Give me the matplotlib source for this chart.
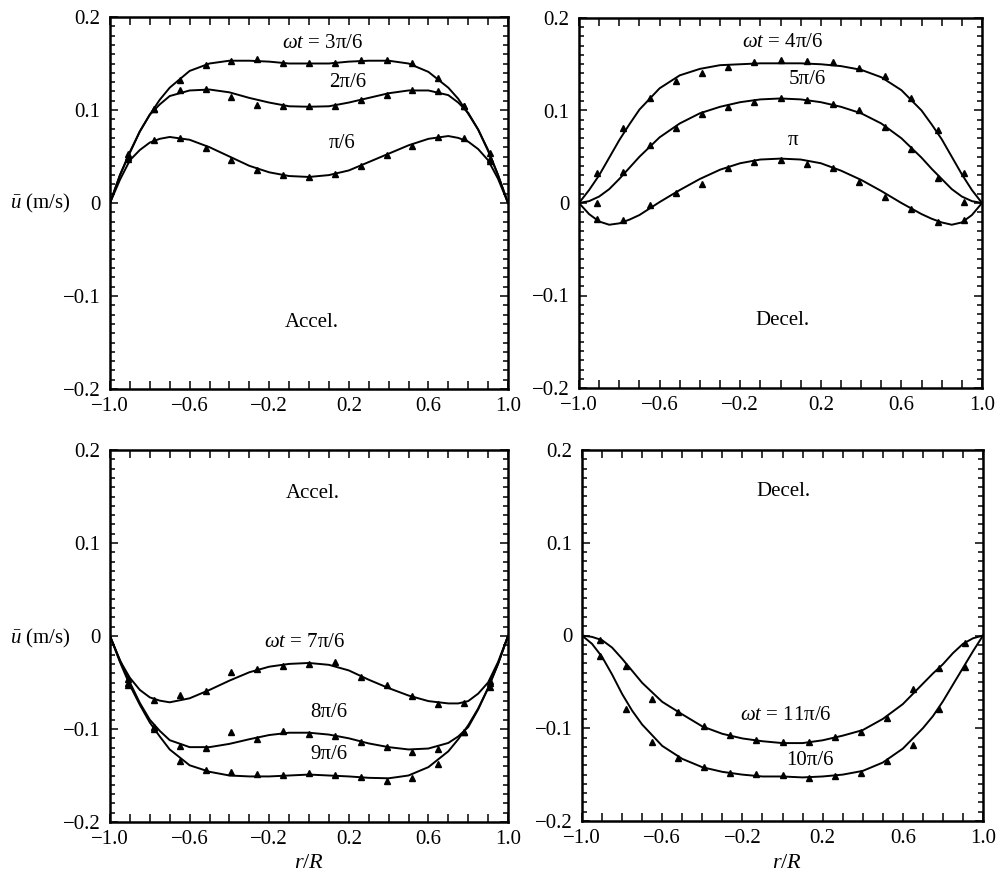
import matplotlib
matplotlib.use('Agg')
import matplotlib.pyplot as plt
from matplotlib.ticker import FixedLocator, MultipleLocator

plt.rcParams['font.family'] = ['Liberation Serif', 'DejaVu Serif']
plt.rcParams['mathtext.fontset'] = 'custom'
plt.rcParams['mathtext.rm'] = 'Liberation Serif'
plt.rcParams['mathtext.it'] = 'Liberation Serif:italic'
plt.rcParams['axes.unicode_minus'] = True

# ---------------- data ----------------
r_line = [-1.0, -0.95, -0.9, -0.85, -0.8, -0.75, -0.7, -0.6, -0.5, -0.4, -0.3, -0.2, -0.1, 0.0,
          0.1, 0.2, 0.3, 0.4, 0.5, 0.6, 0.7, 0.75, 0.8, 0.85, 0.9, 0.95, 1.0]
r_pts = [-0.91, -0.78, -0.65, -0.52, -0.39, -0.26, -0.13, 0.0,
         0.13, 0.26, 0.39, 0.52, 0.65, 0.78, 0.91]

# Panel (a) accel: wt = pi/6, 2pi/6, 3pi/6
line_1 = [0, 0.025, 0.046, 0.057, 0.065, 0.069, 0.071, 0.068, 0.060, 0.050, 0.040, 0.033, 0.029, 0.028,
          0.030, 0.035, 0.044, 0.053, 0.062, 0.069, 0.072, 0.070, 0.066, 0.058, 0.046, 0.026, 0]
line_2 = [0, 0.030, 0.054, 0.077, 0.095, 0.106, 0.115, 0.121, 0.122, 0.119, 0.113, 0.108, 0.104, 0.1035,
          0.104, 0.108, 0.113, 0.118, 0.121, 0.121, 0.116, 0.108, 0.097, 0.079, 0.056, 0.030, 0]
line_3 = [0, 0.030, 0.055, 0.077, 0.095, 0.111, 0.124, 0.142, 0.150, 0.153, 0.153, 0.152, 0.150, 0.150,
          0.150, 0.152, 0.153, 0.153, 0.150, 0.141, 0.124, 0.112, 0.096, 0.079, 0.057, 0.030, 0]
pts_1 = [0.047, 0.068, 0.070, 0.059, 0.046, 0.035, 0.030, 0.028, 0.031, 0.040, 0.052, 0.061, 0.071, 0.070, 0.045]
pts_2 = [0.050, 0.101, 0.121, 0.123, 0.114, 0.105, 0.104, 0.104, 0.104, 0.111, 0.116, 0.1215, 0.120, 0.104, 0.047]
pts_3 = [0.053, 0.101, 0.132, 0.148, 0.153, 0.1545, 0.150, 0.150, 0.150, 0.154, 0.154, 0.150, 0.134, 0.104, 0.054]

# Panel (b) decel: wt = 4pi/6, 5pi/6, pi
line_4 = [0, 0.014, 0.030, 0.049, 0.068, 0.085, 0.101, 0.124, 0.138, 0.145, 0.149, 0.150, 0.151, 0.151,
          0.151, 0.150, 0.148, 0.144, 0.136, 0.122, 0.100, 0.085, 0.069, 0.050, 0.031, 0.014, 0]
line_5 = [0, 0.002, 0.007, 0.015, 0.026, 0.038, 0.050, 0.071, 0.086, 0.097, 0.104, 0.109, 0.112, 0.113,
          0.112, 0.109, 0.104, 0.097, 0.086, 0.070, 0.049, 0.037, 0.026, 0.015, 0.007, 0.002, 0]
line_6 = [0, -0.012, -0.020, -0.0235, -0.022, -0.018, -0.013, 0.001, 0.014, 0.026, 0.036, 0.043, 0.047, 0.048,
          0.047, 0.043, 0.035, 0.025, 0.013, 0.000, -0.012, -0.017, -0.021, -0.0235, -0.021, -0.013, 0]
pts_4 = [0.032, 0.081, 0.114, 0.132, 0.140, 0.147, 0.152, 0.155, 0.153, 0.152, 0.1455, 0.137, 0.113, 0.079, 0.032]
pts_5 = [0.000, 0.034, 0.063, 0.081, 0.096, 0.104, 0.1095, 0.113, 0.111, 0.107, 0.1005, 0.082, 0.058, 0.027, 0.001]
pts_6 = [-0.017, -0.018, -0.002, 0.0105, 0.021, 0.0375, 0.0447, 0.046, 0.042, 0.0375, 0.023, 0.006, -0.006, -0.020, -0.018]

# Panel (c) accel: wt = 7pi/6, 8pi/6, 9pi/6
line_7 = [0, -0.0265, -0.045, -0.058, -0.066, -0.0695, -0.0713, -0.067, -0.058, -0.048, -0.039, -0.033, -0.030, -0.029,
          -0.031, -0.037, -0.047, -0.056, -0.064, -0.070, -0.0725, -0.0725, -0.070, -0.062, -0.050, -0.028, 0]
line_8 = [0, -0.026, -0.050, -0.072, -0.090, -0.102, -0.112, -0.1195, -0.1195, -0.116, -0.111, -0.1065, -0.104, -0.104,
          -0.106, -0.110, -0.1155, -0.1195, -0.122, -0.121, -0.115, -0.108, -0.098, -0.079, -0.056, -0.030, 0]
line_9 = [0, -0.028, -0.053, -0.074, -0.093, -0.108, -0.122, -0.139, -0.146, -0.150, -0.151, -0.151, -0.150, -0.149,
          -0.150, -0.151, -0.1525, -0.153, -0.150, -0.141, -0.124, -0.111, -0.096, -0.078, -0.056, -0.030, 0]
pts_7 = [-0.046, -0.069, -0.063, -0.059, -0.039, -0.035, -0.032, -0.030, -0.028, -0.044, -0.053, -0.064, -0.073, -0.072, -0.048]
pts_8 = [-0.050, -0.098, -0.118, -0.120, -0.1035, -0.111, -0.102, -0.105, -0.108, -0.114, -0.119, -0.125, -0.1215, -0.1035, -0.050]
pts_9 = [-0.053, -0.100, -0.134, -0.144, -0.146, -0.148, -0.149, -0.147, -0.149, -0.152, -0.156, -0.153, -0.138, -0.1035, -0.055]

# Panel (d) decel: wt = 10pi/6, 11pi/6
line_10 = [0, -0.009, -0.023, -0.042, -0.063, -0.081, -0.096, -0.119, -0.133, -0.142, -0.147, -0.150, -0.152, -0.152,
           -0.153, -0.152, -0.150, -0.146, -0.137, -0.122, -0.100, -0.087, -0.071, -0.053, -0.035, -0.017, 0]
line_11 = [0, -0.0015, -0.005, -0.013, -0.025, -0.038, -0.051, -0.0715, -0.085, -0.098, -0.106, -0.111, -0.114, -0.116,
           -0.116, -0.113, -0.108, -0.102, -0.090, -0.074, -0.052, -0.041, -0.031, -0.019, -0.009, -0.003, 0]
pts_10 = [-0.022, -0.079, -0.115, -0.1325, -0.142, -0.148, -0.149, -0.1505, -0.154, -0.152, -0.148, -0.135, -0.118, -0.079, -0.0345]
pts_11 = [-0.005, -0.033, -0.068, -0.083, -0.098, -0.107, -0.113, -0.1146, -0.1146, -0.109, -0.104, -0.089, -0.058, -0.035, -0.008]

x_ticks = [-1.0, -0.6, -0.2, 0.2, 0.6, 1.0]
x_ticklabels = ['\u22121.0', '\u22120.6', '\u22120.2', '0.2', '0.6', '1.0']
y_ticks = [-0.2, -0.1, 0.0, 0.1, 0.2]
y_ticklabels = ['\u22120.2', '\u22120.1', '0', '0.1', '0.2']

PI = '\u03c0'

# ---------------- figure ----------------
W, H = 1001, 884
fig = plt.figure(figsize=(W / 100, H / 100), dpi=100)

def px_axes(l, r, t, b):
    return fig.add_axes([l / W, 1 - b / H, (r - l) / W, (b - t) / H])

ax_a = px_axes(110, 508, 17, 389)
ax_b = px_axes(579, 982, 18, 388)
ax_c = px_axes(110, 508, 450, 822)
ax_d = px_axes(582, 983, 450, 821)

FS = 15

def style(ax):
    ax.set_xlim(-1.0, 1.0)
    ax.set_ylim(-0.2, 0.2)
    ax.xaxis.set_major_locator(FixedLocator(x_ticks))
    ax.set_xticklabels(x_ticklabels)
    ax.xaxis.set_minor_locator(MultipleLocator(0.1))
    ax.yaxis.set_major_locator(FixedLocator(y_ticks))
    ax.set_yticklabels(y_ticklabels)
    ax.yaxis.set_minor_locator(MultipleLocator(0.01))
    ax.tick_params(which='both', direction='in', top=True, right=True, width=1.1, colors='black')
    ax.tick_params(which='major', length=6, labelsize=FS)
    ax.tick_params(axis='x', which='minor', length=6)
    ax.tick_params(axis='y', which='minor', length=3.5)
    ax.tick_params(axis='x', which='major', pad=6)
    ax.tick_params(axis='y', which='major', pad=7)
    for s in ax.spines.values():
        s.set_linewidth(1.8)

def draw(ax, line, pts):
    ax.plot(r_line, line, color='black', lw=1.4, solid_joinstyle='round')
    ax.plot(r_pts, pts, linestyle='none', marker='^', ms=4.5, color='black')

for ax in (ax_a, ax_b, ax_c, ax_d):
    style(ax)

draw(ax_a, line_1, pts_1)
draw(ax_a, line_2, pts_2)
draw(ax_a, line_3, pts_3)
draw(ax_b, line_4, pts_4)
draw(ax_b, line_5, pts_5)
draw(ax_b, line_6, pts_6)
draw(ax_c, line_7, pts_7)
draw(ax_c, line_8, pts_8)
draw(ax_c, line_9, pts_9)
draw(ax_d, line_10, pts_10)
draw(ax_d, line_11, pts_11)

WT = '$\\omega t$ = '
kw = dict(ha='center', va='center', fontsize=FS)
ax_a.text(0.07, 0.172, WT + '3' + PI + '/6', **kw)
ax_a.text(0.196, 0.130, '2' + PI + '/6', **kw)
ax_a.text(0.166, 0.0645, PI + '/6', **kw)
ax_a.text(0.015, -0.128, 'Accel.', **kw)

ax_b.text(0.012, 0.174, WT + '4' + PI + '/6', **kw)
ax_b.text(0.131, 0.133, '5' + PI + '/6', **kw)
ax_b.text(0.062, 0.068, PI, **kw)
ax_b.text(0.012, -0.1265, 'Decel.', **kw)

ax_c.text(0.02, 0.153, 'Accel.', **kw)
ax_c.text(-0.02, -0.0065, WT + '7' + PI + '/6', **kw)
ax_c.text(0.10, -0.082, '8' + PI + '/6', **kw)
ax_c.text(0.10, -0.127, '9' + PI + '/6', **kw)

ax_d.text(0.0025, 0.155, 'Decel.', **kw)
ax_d.text(0.0175, -0.086, WT + '11' + PI + '/6', **kw)
ax_d.text(0.137, -0.135, '10' + PI + '/6', **kw)

fig.text(10 / W, 1 - 203 / H, '$\\bar{u}$ (m/s)', ha='left', va='center', fontsize=FS)
fig.text(10 / W, 1 - 638 / H, '$\\bar{u}$ (m/s)', ha='left', va='center', fontsize=FS)
fig.text(309 / W, 1 - 863 / H, '$r/R$', ha='center', va='center', fontsize=FS + 1)
fig.text(787 / W, 1 - 863 / H, '$r/R$', ha='center', va='center', fontsize=FS + 1)

fig.savefig('out.png', dpi=100)
